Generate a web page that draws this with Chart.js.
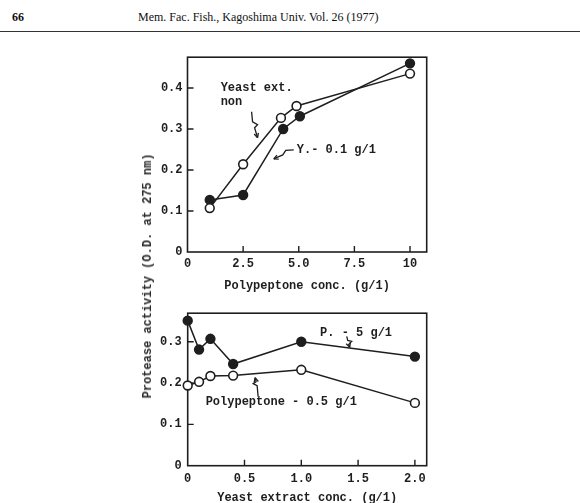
<!DOCTYPE html>
<html>
<head>
<meta charset="utf-8">
<script src="https://cdn.jsdelivr.net/npm/chart.js@4.4.1/dist/chart.umd.min.js"></script>
<style>
  html, body { margin:0; padding:0; background:#fff; width:580px; height:503px; overflow:hidden; }
  body { position:relative; font-family:"Liberation Mono", monospace; color:#222; }
  .hdr { position:absolute; top:10px; font-family:"Liberation Serif", "DejaVu Serif", serif; font-size:12px; color:#111; white-space:nowrap; }
  #pg { left:12px; font-weight:bold; }
  #jt { left:138px; }
  #rule { position:absolute; left:0; top:31px; width:580px; border-top:1.5px solid #333; }
  canvas { position:absolute; }
  #c1 { left:130px; top:45px; }
  #c2 { left:130px; top:300px; }
  #ytitle { position:absolute; left:148px; top:276px; transform:translate(-50%,-50%) rotate(-90deg);
            white-space:nowrap; font-size:12px; font-weight:bold; color:#2a2a2a; }
</style>
</head>
<body>
<div class="hdr" id="pg">66</div>
<div class="hdr" id="jt">Mem. Fac. Fish., Kagoshima Univ. Vol. 26 (1977)</div>
<div id="rule"></div>
<canvas id="c1" width="310" height="250"></canvas>
<canvas id="c2" width="310" height="206"></canvas>
<div id="ytitle">Protease activity (O.D. at 275 nm)</div>

<script>
// haut : activité vs polypeptone
const polyConcOpen   = [1.0, 2.5, 4.2, 4.9, 10.0];
const yeastNonVals   = [0.107, 0.214, 0.327, 0.356, 0.435];
const polyConcFilled = [1.0, 2.5, 4.3, 5.05, 10.0];
const yeast01Vals    = [0.127, 0.139, 0.300, 0.331, 0.460];
const topXTicks  = [0, 2.5, 5, 7.5, 10];
const topXLabels = ['0', '2.5', '5.0', '7.5', '10'];
const topYTicks  = [0, 0.1, 0.2, 0.3, 0.4];
const topYLabels = ['0', '0.1', '0.2', '0.3', '0.4'];

// bas : activité vs extrait de levure
const yeastConc  = [0, 0.1, 0.2, 0.4, 1.0, 2.0];
const poly5Vals  = [0.351, 0.281, 0.307, 0.246, 0.300, 0.264];
const poly05Vals = [0.194, 0.203, 0.217, 0.218, 0.232, 0.152];
const botXTicks  = [0, 0.5, 1, 1.5, 2];
const botXLabels = ['0', '0.5', '1.0', '1.5', '2.0'];
const botYTicks  = [0, 0.1, 0.2, 0.3];
const botYLabels = ['0', '0.1', '0.2', '0.3'];

const INK = '#1e1e1e';
const FONT = { family: '"Liberation Mono", monospace', size: 12, weight: 'bold' };
const pts = (xs, ys) => xs.map((x, i) => ({ x: x, y: ys[i] }));

//cadre + petites graduations vers l'intérieur
const cadre = {
    id: 'cadre',
    beforeDatasetsDraw(chart) {
        const { ctx, chartArea: a, scales } = chart;
        ctx.save();
        ctx.strokeStyle = INK;
        ctx.lineWidth = 1.6;
        ctx.strokeRect(a.left, a.top, a.right - a.left, a.bottom - a.top);
        ctx.lineWidth = 1.4;
        ctx.beginPath();
        scales.x.ticks.forEach(t => {
            if (t.value === 0) return;
            const px = scales.x.getPixelForValue(t.value);
            ctx.moveTo(px, a.bottom); ctx.lineTo(px, a.bottom - 6);
        });
        scales.y.ticks.forEach(t => {
            if (t.value === 0) return;
            const py = scales.y.getPixelForValue(t.value);
            ctx.moveTo(a.left, py); ctx.lineTo(a.left + 6, py);
        });
        ctx.stroke();
        ctx.restore();
    }
};

// flèche ondulée : liste de décalages (px) depuis un point, pointe au bout
function squiggle(ctx, x0, y0, path) {
    ctx.beginPath();
    ctx.moveTo(x0 + path[0][0], y0 + path[0][1]);
    for (let i = 1; i < path.length; i++) ctx.lineTo(x0 + path[i][0], y0 + path[i][1]);
    ctx.stroke();
    const n = path.length;
    const [ax, ay] = path[n - 2], [bx, by] = path[n - 1];
    const ang = Math.atan2(by - ay, bx - ax);
    ctx.beginPath();
    ctx.moveTo(x0 + bx, y0 + by);
    ctx.lineTo(x0 + bx - 5 * Math.cos(ang - 0.45), y0 + by - 5 * Math.sin(ang - 0.45));
    ctx.moveTo(x0 + bx, y0 + by);
    ctx.lineTo(x0 + bx - 5 * Math.cos(ang + 0.45), y0 + by - 5 * Math.sin(ang + 0.45));
    ctx.stroke();
}

function notesPlugin(draw) {
    return {
        id: 'notes',
        afterDatasetsDraw(chart) {
            const { ctx, scales } = chart;
            const X = v => scales.x.getPixelForValue(v);
            const Y = v => scales.y.getPixelForValue(v);
            ctx.save();
            ctx.fillStyle = INK;
            ctx.strokeStyle = INK;
            ctx.lineWidth = 1.3;
            ctx.font = 'bold 12px "Liberation Mono", monospace';
            ctx.textAlign = 'left';
            ctx.textBaseline = 'middle';
            draw(ctx, X, Y);
            ctx.restore();
        }
    };
}

function mkOptions(xMax, yMax, xTicks, xLabels, yTicks, yLabels, xTitle, xPad, titlePad, axisH, yPad) {
    return {
        responsive: false,
        animation: false,
        layout: { padding: { top: 0, right: 0, left: 0, bottom: 0 } },
        plugins: { legend: { display: false }, tooltip: { enabled: false } },
        scales: {
            x: {
                type: 'linear', min: 0, max: xMax,
                grid: { display: false, drawTicks: false },
                border: { display: false },
                afterBuildTicks: s => { s.ticks = xTicks.map(v => ({ value: v })); },
                afterFit: s => { s.height = axisH; },
                ticks: { color: INK, font: FONT, padding: xPad, maxRotation: 0, autoSkip: false,
                         callback: v => xLabels[xTicks.indexOf(v)] },
                title: { display: true, text: xTitle, color: INK, font: FONT,
                         padding: { top: 0, bottom: titlePad } }
            },
            y: {
                type: 'linear', min: 0, max: yMax,
                grid: { display: false, drawTicks: false },
                border: { display: false },
                afterBuildTicks: s => { s.ticks = yTicks.map(v => ({ value: v })); },
                afterFit: s => { s.width = 57.5; },
                ticks: { color: INK, font: FONT, padding: yPad,
                         callback: v => yLabels[yTicks.indexOf(v)] }
            }
        }
    };
}

const openStyle = { borderColor: INK, borderWidth: 1.5, pointRadius: 4.4, pointBorderWidth: 1.6,
                    pointBackgroundColor: '#fff', pointBorderColor: INK, tension: 0, clip: false };
const fillStyle = { borderColor: INK, borderWidth: 1.5, pointRadius: 4.4, pointBorderWidth: 1.6,
                    pointBackgroundColor: INK, pointBorderColor: INK, tension: 0, clip: false };

// graphique du haut
const opt1 = mkOptions(10.75, 0.475, topXTicks, topXLabels, topYTicks, topYLabels,
                       'Polypeptone conc. (g/1)', 5, 1.5, 43, 5);
opt1.layout.padding = { top: 7, right: 13.3, left: 0, bottom: 0 };
new Chart(document.getElementById('c1'), {
    type: 'line',
    data: {
        datasets: [
            Object.assign({ label: 'Yeast ext. non', data: pts(polyConcOpen, yeastNonVals) }, openStyle),
            Object.assign({ label: 'Y.- 0.1 g/1', data: pts(polyConcFilled, yeast01Vals) }, fillStyle)
        ]
    },
    options: opt1,
    plugins: [cadre, notesPlugin((ctx, X, Y) => {
        ctx.fillText('Yeast ext.', X(1.49), Y(0.399));
        ctx.fillText('non', X(1.49), Y(0.365));
        squiggle(ctx, X(2.88), Y(0.342), [[0, 0], [1, 10], [6, 13], [3, 16], [6, 26]]);
        ctx.fillText('Y.- 0.1 g/1', X(4.91), Y(0.249));
        squiggle(ctx, X(4.91) - 3, Y(0.249), [[0, 0], [-8, 0.5], [-11, 5], [-20, 9]]);
    })]
});

// graphique du bas
const opt2 = mkOptions(2.104, 0.369, botXTicks, botXLabels, botYTicks, botYLabels,
                       'Yeast extract conc. (g/1)', 6, 1, 40.3, 6);
opt2.layout.padding = { top: 10, right: 13.3, left: 0.2, bottom: 0 };
new Chart(document.getElementById('c2'), {
    type: 'line',
    data: {
        datasets: [
            Object.assign({ label: 'P. - 5 g/1', data: pts(yeastConc, poly5Vals) }, fillStyle),
            Object.assign({ label: 'Polypeptone - 0.5 g/1', data: pts(yeastConc, poly05Vals) }, openStyle)
        ]
    },
    options: opt2,
    plugins: [cadre, notesPlugin((ctx, X, Y) => {
        ctx.fillText('P. - 5 g/1', X(1.165), Y(0.322));
        squiggle(ctx, X(1.40), Y(0.313), [[0, 0], [1, 4], [5, 5], [2, 8], [3, 11]]);
        ctx.fillText('Polypeptone - 0.5 g/1', X(0.158), Y(0.153));
        squiggle(ctx, X(0.62), Y(0.167), [[0, 0], [-1, -11], [-5, -13], [-2, -15], [-3, -19]]);
    })]
});
</script>
</body>
</html>
